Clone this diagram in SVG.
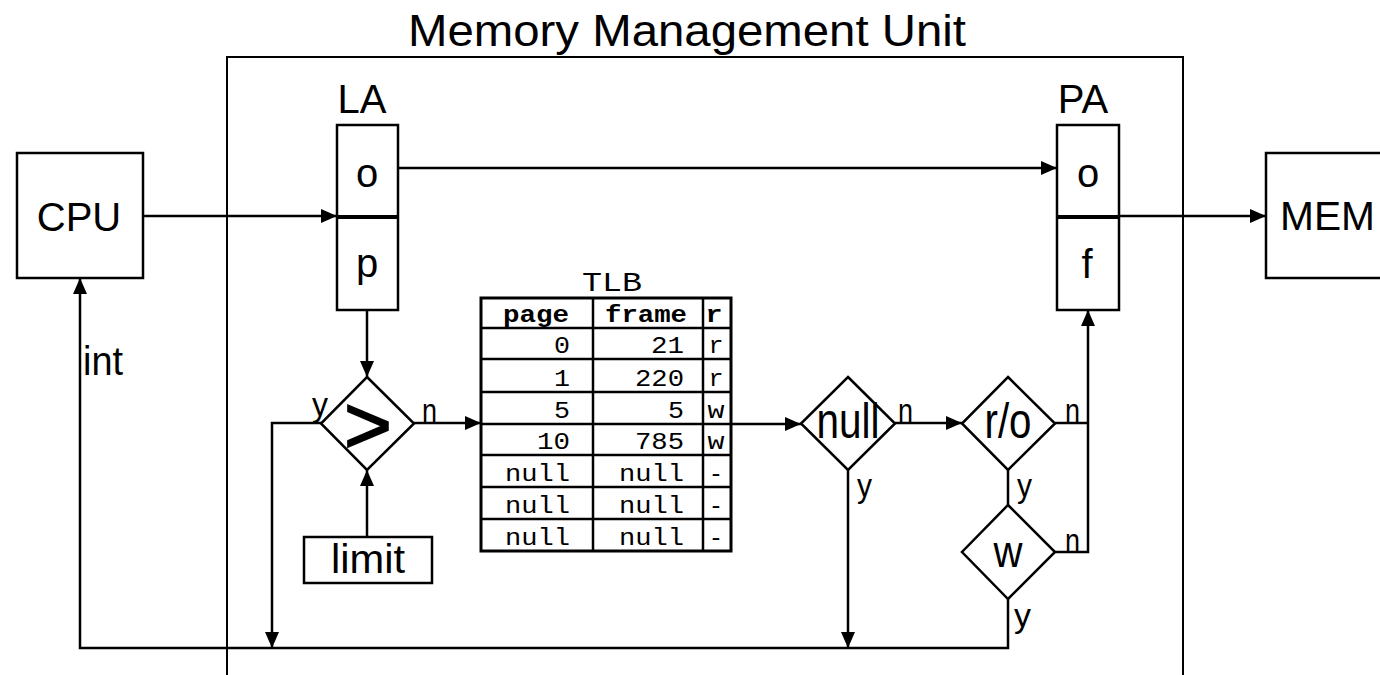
<svg xmlns="http://www.w3.org/2000/svg" width="1380" height="675" viewBox="0 0 1380 675">
<defs>
<marker id="ah" markerWidth="16" markerHeight="14" refX="16" refY="7" orient="auto" markerUnits="userSpaceOnUse">
<path d="M0,0 L16,7 L0,14 z" fill="#000"/>
</marker>
<style>
.box{fill:#fff;stroke:#000;stroke-width:2.5}
.frame{fill:none;stroke:#000;stroke-width:2}
.ln{fill:none;stroke:#000;stroke-width:2.5}
.arr{fill:none;stroke:#000;stroke-width:2.5;marker-end:url(#ah)}
.t{font-family:"Liberation Sans",Arial,sans-serif;font-size:40px;fill:#000}
.nar{font-family:"Liberation Sans Narrow","Liberation Sans",Arial,sans-serif;fill:#000}
.lbl{font-family:"Liberation Sans Narrow","Liberation Sans",Arial,sans-serif;font-size:34px;fill:#000}
.m{font-family:"Liberation Mono","DejaVu Sans Mono",monospace;font-size:24px;fill:#000}
.mb{font-family:"Liberation Mono","DejaVu Sans Mono",monospace;font-size:24px;font-weight:bold;fill:#000}
.c{text-anchor:middle}
.e{text-anchor:end}
</style>
</defs>

<g id="mmu">
<rect class="frame" x="227" y="57" width="956" height="700"/>
<text class="t c" x="687" y="46" style="font-size:44px" textLength="558" lengthAdjust="spacingAndGlyphs">Memory Management Unit</text>
</g>

<g id="connectors">
<path class="arr" d="M143,216 H337"/>
<path class="arr" d="M398,168 H1057"/>
<path class="arr" d="M1119,216 H1266"/>
<path class="arr" d="M367,310 V377"/>
<path class="arr" d="M367,537 V470"/>
<path class="arr" d="M414,423 H481"/>
<path class="arr" d="M321,423 H272 V648"/>
<path class="arr" d="M731,424 H801"/>
<path class="arr" d="M895,423 H962"/>
<path class="arr" d="M848,470 V648"/>
<path class="ln" d="M1008,470 V505"/>
<path class="ln" d="M1055,423 H1088"/>
<path class="arr" d="M1055,552 H1088 V310"/>
<path class="arr" d="M1008,599 V648 H80 V278"/>
</g>

<g id="labels">
<text class="lbl" x="312" y="416" textLength="16" lengthAdjust="spacingAndGlyphs">y</text>
<text class="lbl" x="422" y="422" textLength="15" lengthAdjust="spacingAndGlyphs">n</text>
<text class="lbl" x="898" y="422" textLength="15" lengthAdjust="spacingAndGlyphs">n</text>
<text class="lbl" x="857" y="497" textLength="15" lengthAdjust="spacingAndGlyphs">y</text>
<text class="lbl" x="1065" y="422" textLength="15" lengthAdjust="spacingAndGlyphs">n</text>
<text class="lbl" x="1017" y="497" textLength="15" lengthAdjust="spacingAndGlyphs">y</text>
<text class="lbl" x="1065" y="552" textLength="15" lengthAdjust="spacingAndGlyphs">n</text>
<text class="lbl" x="1014" y="627" textLength="17" lengthAdjust="spacingAndGlyphs">y</text>
<text class="t" x="83" y="375" textLength="40" lengthAdjust="spacingAndGlyphs">int</text>
</g>

<g id="cpu">
<rect class="box" x="17" y="153" width="126" height="125"/>
<text class="t c" x="79" y="231">CPU</text>
</g>

<g id="mem">
<rect class="box" x="1266" y="153" width="126" height="125"/>
<text class="t" x="1280" y="230" textLength="95" lengthAdjust="spacingAndGlyphs">MEM</text>
</g>

<g id="la">
<text class="t c" x="362" y="113">LA</text>
<rect class="box" x="337" y="125" width="61" height="185"/>
<line x1="337" y1="217" x2="398" y2="217" stroke="#000" stroke-width="4"/>
<text class="t c" x="367" y="187">o</text>
<text class="t c" x="367" y="277">p</text>
</g>

<g id="pa">
<text class="t c" x="1083" y="113">PA</text>
<rect class="box" x="1057" y="125" width="62" height="185"/>
<line x1="1057" y1="217" x2="1119" y2="217" stroke="#000" stroke-width="4"/>
<text class="t c" x="1088" y="187">o</text>
<text class="t c" x="1087" y="278">f</text>
</g>

<g id="compare">
<polygon class="box" points="367,377 414,423.5 367,470 321,423.5"/>
<text class="t c" x="368" y="453" style="font-size:82px;stroke:#000;stroke-width:1.8">&gt;</text>
</g>

<g id="limit">
<rect class="box" x="304" y="537" width="128" height="46"/>
<text class="t c" x="368" y="573" textLength="74" lengthAdjust="spacingAndGlyphs">limit</text>
</g>

<g id="tlb">
<text class="m c" x="612" y="291" style="font-size:28px" textLength="60" lengthAdjust="spacingAndGlyphs">TLB</text>
<rect x="481" y="298" width="250" height="253" fill="#fff" stroke="#000" stroke-width="3"/>
<g stroke="#000" stroke-width="2.5">
<line x1="593" y1="298" x2="593" y2="551"/>
<line x1="703" y1="298" x2="703" y2="551"/>
<line x1="481" y1="328" x2="731" y2="328"/>
<line x1="481" y1="359" x2="731" y2="359"/>
<line x1="481" y1="392" x2="731" y2="392"/>
<line x1="481" y1="424" x2="731" y2="424"/>
<line x1="481" y1="455" x2="731" y2="455"/>
<line x1="481" y1="487" x2="731" y2="487"/>
<line x1="481" y1="519" x2="731" y2="519"/>
</g>
<text class="mb c" x="536" y="322" textLength="66" lengthAdjust="spacingAndGlyphs">page</text>
<text class="mb c" x="646" y="322" textLength="82" lengthAdjust="spacingAndGlyphs">frame</text>
<text class="mb c" x="714" y="322" textLength="17" lengthAdjust="spacingAndGlyphs">r</text>

<text class="m e" x="570" y="353" textLength="16" lengthAdjust="spacingAndGlyphs">0</text>
<text class="m e" x="684" y="353" textLength="33" lengthAdjust="spacingAndGlyphs">21</text>
<text class="m c" x="716" y="353" textLength="15" lengthAdjust="spacingAndGlyphs">r</text>

<text class="m e" x="570" y="386" textLength="16" lengthAdjust="spacingAndGlyphs">1</text>
<text class="m e" x="684" y="386" textLength="49" lengthAdjust="spacingAndGlyphs">220</text>
<text class="m c" x="716" y="386" textLength="15" lengthAdjust="spacingAndGlyphs">r</text>

<text class="m e" x="570" y="418" textLength="16" lengthAdjust="spacingAndGlyphs">5</text>
<text class="m e" x="684" y="418" textLength="16" lengthAdjust="spacingAndGlyphs">5</text>
<text class="m c" x="716" y="418" textLength="17" lengthAdjust="spacingAndGlyphs">w</text>

<text class="m e" x="570" y="449" textLength="33" lengthAdjust="spacingAndGlyphs">10</text>
<text class="m e" x="684" y="449" textLength="49" lengthAdjust="spacingAndGlyphs">785</text>
<text class="m c" x="716" y="449" textLength="17" lengthAdjust="spacingAndGlyphs">w</text>

<text class="m e" x="570" y="481" textLength="65" lengthAdjust="spacingAndGlyphs">null</text>
<text class="m e" x="684" y="481" textLength="65" lengthAdjust="spacingAndGlyphs">null</text>
<text class="m c" x="716" y="481">-</text>

<text class="m e" x="570" y="513" textLength="65" lengthAdjust="spacingAndGlyphs">null</text>
<text class="m e" x="684" y="513" textLength="65" lengthAdjust="spacingAndGlyphs">null</text>
<text class="m c" x="716" y="513">-</text>

<text class="m e" x="570" y="545" textLength="65" lengthAdjust="spacingAndGlyphs">null</text>
<text class="m e" x="684" y="545" textLength="65" lengthAdjust="spacingAndGlyphs">null</text>
<text class="m c" x="716" y="545">-</text>
</g>

<g id="null-check">
<polygon class="box" points="848,377 895,423.5 848,470 801,423.5"/>
<text class="nar c" x="848" y="438" font-size="50" textLength="63" lengthAdjust="spacingAndGlyphs">null</text>
</g>

<g id="ro-check">
<polygon class="box" points="1008,377 1055,423.5 1008,470 962,423.5"/>
<text class="nar c" x="1008" y="438" font-size="50" textLength="47" lengthAdjust="spacingAndGlyphs">r/o</text>
</g>

<g id="w-check">
<polygon class="box" points="1008,505 1055,552 1008,599 962,552"/>
<text class="nar c" x="1008" y="567" font-size="44" textLength="29" lengthAdjust="spacingAndGlyphs">w</text>
</g>
</svg>
